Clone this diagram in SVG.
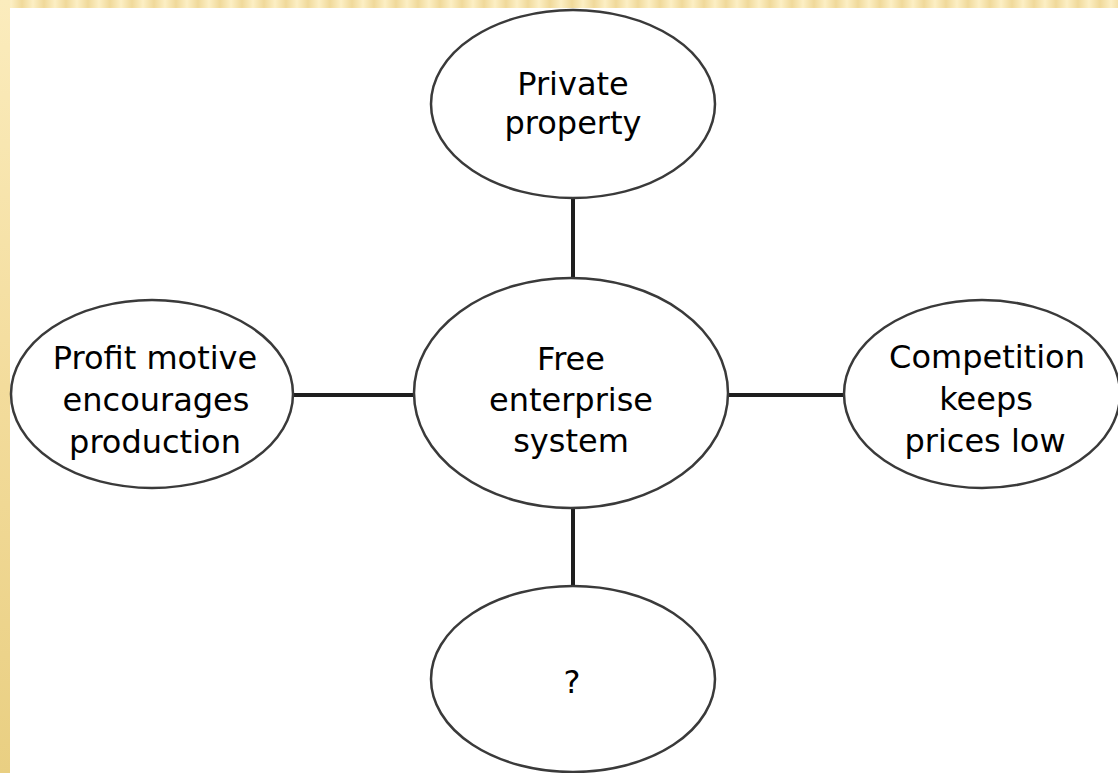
<svg xmlns="http://www.w3.org/2000/svg" width="1118" height="773" viewBox="0 0 1118 773">
  <defs>
    <linearGradient id="leftStrip" x1="0" y1="0" x2="0" y2="1">
      <stop offset="0" stop-color="#fbecbd"/>
      <stop offset="0.5" stop-color="#f3dc9c"/>
      <stop offset="1" stop-color="#e9cf82"/>
    </linearGradient>
    <linearGradient id="stripe" x1="0" y1="0" x2="1" y2="0">
      <stop offset="0" stop-color="#f0d99a"/>
      <stop offset="0.5" stop-color="#fcefc4"/>
      <stop offset="1" stop-color="#f0d99a"/>
    </linearGradient>
    <pattern id="topStripes" x="0" y="0" width="22" height="8" patternUnits="userSpaceOnUse">
      <rect width="22" height="8" fill="url(#stripe)"/>
    </pattern>
    <style>
      .node { fill: #ffffff; stroke: #3a3a3a; stroke-width: 2.5; }
      .label { font-family: "DejaVu Sans", "Liberation Sans", sans-serif; font-size: 32px; fill: #000000; text-anchor: middle; }
      .conn { stroke: #1e1e1e; stroke-width: 4; fill: none; }
    </style>
  </defs>

  <rect x="0" y="0" width="1118" height="773" fill="#ffffff"/>
  <rect x="0" y="0" width="1118" height="8" fill="url(#topStripes)"/>
  <rect x="0" y="0" width="10" height="773" fill="url(#leftStrip)"/>

  <g id="connectors">
    <line class="conn" x1="573" y1="198" x2="573" y2="279"/>
    <line class="conn" x1="573" y1="507" x2="573" y2="586"/>
    <line class="conn" x1="293" y1="395" x2="414" y2="395"/>
    <line class="conn" x1="727" y1="395" x2="845" y2="395"/>
  </g>

  <g id="node-private-property">
    <ellipse class="node" cx="573" cy="104" rx="142" ry="94"/>
    <text class="label" x="573" y="95">Private</text>
    <text class="label" x="573" y="134">property</text>
  </g>

  <g id="node-free-enterprise">
    <ellipse class="node" cx="571" cy="393" rx="157" ry="115"/>
    <text class="label" x="571" y="370">Free</text>
    <text class="label" x="571" y="411">enterprise</text>
    <text class="label" x="571" y="452">system</text>
  </g>

  <g id="node-profit-motive">
    <ellipse class="node" cx="152" cy="394" rx="141" ry="94"/>
    <text class="label" x="155" y="369">Profit motive</text>
    <text class="label" x="156" y="411">encourages</text>
    <text class="label" x="155" y="453">production</text>
  </g>

  <g id="node-competition">
    <ellipse class="node" cx="982" cy="394" rx="138" ry="94"/>
    <text class="label" x="987" y="368">Competition</text>
    <text class="label" x="986" y="410">keeps</text>
    <text class="label" x="985" y="452">prices low</text>
  </g>

  <g id="node-question">
    <ellipse class="node" cx="573" cy="679" rx="142" ry="93"/>
    <text class="label" x="572" y="693">?</text>
  </g>
</svg>
